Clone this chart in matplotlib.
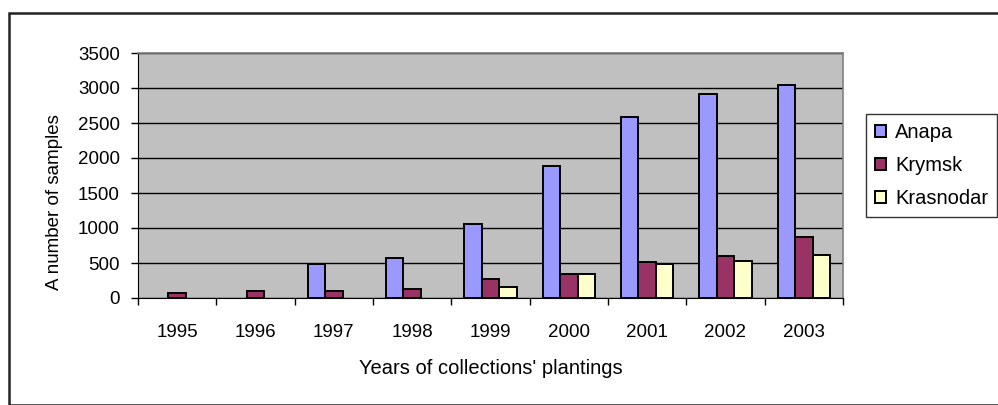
import matplotlib
matplotlib.use("Agg")
import matplotlib.pyplot as plt
import numpy as np
from matplotlib.patches import Rectangle, Patch

years = ["1995", "1996", "1997", "1998", "1999", "2000", "2001", "2002", "2003"]
anapa = [0, 0, 490, 570, 1060, 1880, 2580, 2910, 3040]
krymsk = [70, 100, 100, 130, 270, 340, 510, 600, 870]
krasnodar = [0, 0, 0, 0, 160, 340, 490, 530, 610]
series_names = ["Anapa", "Krymsk", "Krasnodar"]
colors = ["#9999FF", "#993366", "#FFFFCC"]
yticks = [0, 500, 1000, 1500, 2000, 2500, 3000, 3500]

plt.rcParams['font.family'] = ['Liberation Sans', 'DejaVu Sans']
W, H = 998, 405
fig = plt.figure(figsize=(W / 100, H / 100), dpi=100)
fig.patch.set_facecolor("white")

# outer chart frame
fig.add_artist(Rectangle((9 / W, 0), 1.2, 1 - 13 / H, transform=fig.transFigure,
                         fill=False, edgecolor="#222222", lw=1.8, clip_on=False))

ax = fig.add_axes([138 / W, 1 - 298 / H, (843 - 138) / W, (298 - 53) / H])
ax.set_facecolor("#C0C0C0")

x = np.arange(len(years))
bw = 1 / 4.5
data = [anapa, krymsk, krasnodar]
for i, (vals, c, name) in enumerate(zip(data, colors, series_names)):
    vals = np.asarray(vals, dtype=float)
    lw = np.where(vals > 0, 1.4, 0.0)
    ax.bar(x + (i - 1) * bw, vals, width=bw, color=c, edgecolor="black",
           linewidth=lw, label=name, zorder=3)

ax.set_xlim(-0.5, len(years) - 0.5)
ax.set_ylim(0, 3500)
ax.set_yticks(yticks)
ax.set_yticklabels([str(v) for v in yticks], fontsize=13.5)
ax.yaxis.grid(True, color="black", lw=1, zorder=1)
ax.set_axisbelow(True)

ax.set_xticks(x)
ax.set_xticklabels(years, fontsize=13.5)
ax.tick_params(axis='x', length=0, pad=19)
ax.set_xticks(np.arange(-0.5, len(years), 1), minor=True)
ax.tick_params(axis='x', which='minor', length=5, width=1, direction='out')
ax.tick_params(axis='y', length=5, width=1, direction='out', pad=8)

for s in ["top", "right"]:
    ax.spines[s].set_color("#808080")
    ax.spines[s].set_linewidth(1.2)
ax.spines["left"].set_color("black")
ax.spines["bottom"].set_color("black")

ax.set_ylabel("A number of samples", fontsize=13.5)
ax.yaxis.set_label_coords(55 / W, 0.5, transform=fig.transFigure)
ax.yaxis.label.set_va("center")
ax.set_xlabel("Years of collections' plantings", fontsize=14.5)
ax.xaxis.set_label_coords(0.5, 1 - 369 / H, transform=fig.transFigure)
ax.xaxis.label.set_position(((138 + 843) / 2 / W, 1 - 369 / H))
ax.xaxis.label.set_va("center")

handles = [Patch(facecolor=c, edgecolor="black", lw=1.4) for c in colors]
leg = fig.legend(handles, series_names, loc="lower left",
                 bbox_to_anchor=(866 / W, 1 - 217 / H), bbox_transform=fig.transFigure,
                 fontsize=14.5, frameon=True, fancybox=False, borderaxespad=0,
                 handlelength=0.55, handleheight=0.55, handletextpad=0.45,
                 labelspacing=0.7, borderpad=0.45)
leg.get_frame().set_edgecolor("black")
leg.get_frame().set_linewidth(1)

fig.savefig("out.png", dpi=100)
